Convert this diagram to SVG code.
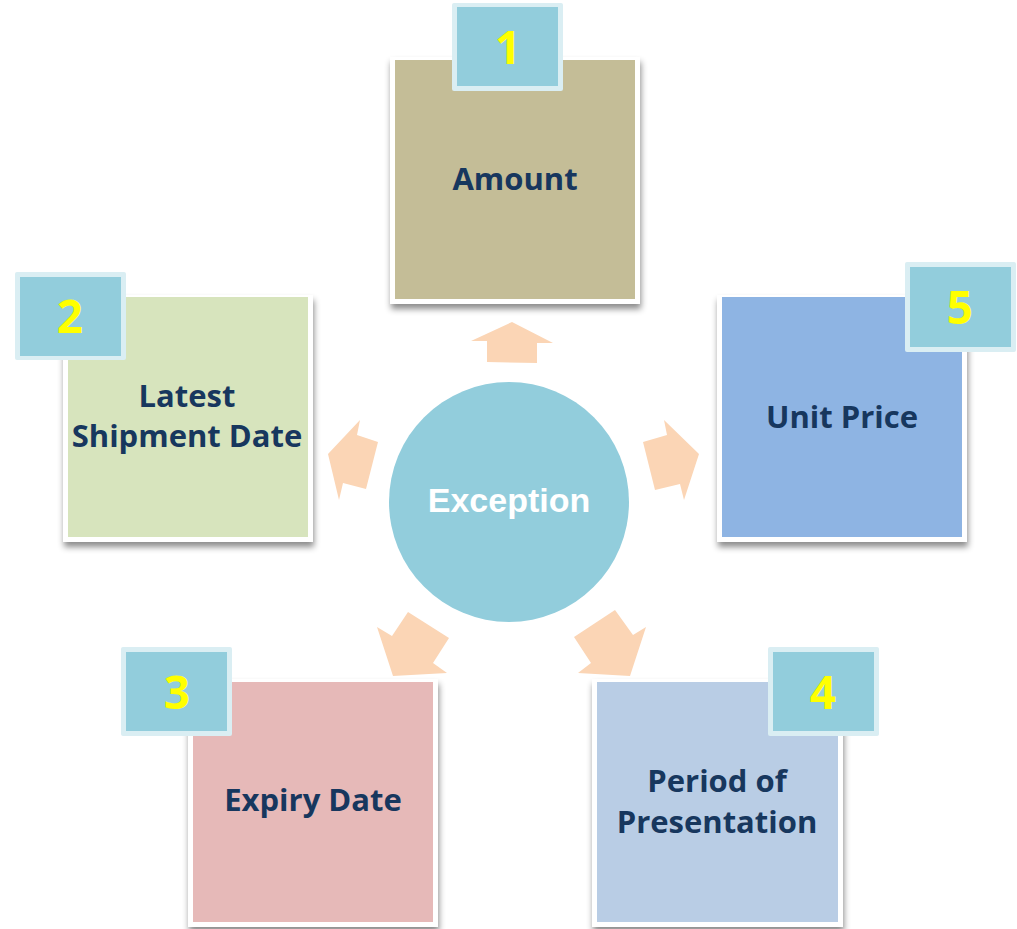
<svg xmlns="http://www.w3.org/2000/svg" width="1017" height="929" viewBox="0 0 1017 929">
<defs>
<filter id="sh" x="-10%" y="-10%" width="125%" height="125%">
<feDropShadow dx="1" dy="5" stdDeviation="3" flood-color="#000" flood-opacity="0.45"/>
</filter>
<style>
.frame{fill:#fff;filter:url(#sh)}
.lbl{font-family:"Open Sans","Noto Sans",sans-serif;font-weight:700;font-size:31px;fill:#17375E;text-anchor:middle}
.num{font-family:"Open Sans","Noto Sans",sans-serif;font-weight:700;font-size:46px;fill:#FFFF00;text-anchor:middle}
.bo{fill:#DAEEF3}
.bi{fill:#92CDDC}
.arr{fill:#FBD5B5}
</style>
</defs>
<rect width="1017" height="929" fill="#fff"/>
<g id="connectors">
<polygon class="arr" points="512,322 553,343 537,343 537,363 487,362 487,341 471,341"/>
<polygon class="arr" points="328,454 360,420 357,435 378,442 366,489 343,483 339,500"/>
<polygon class="arr" points="699,454 664,420 667,435 643,442 655,490 680,484 684,500"/>
<polygon class="arr" points="377,627 392,636 408,612 449,638 433,663 447,673 393,676"/>
<polygon class="arr" points="646,627 633,635 615,610 574,637 591,663 578,673 630,676"/>
</g>
<g id="center">
<circle cx="509" cy="502" r="120" fill="#92CDDC"/>
<text x="509" y="512" font-family="'Liberation Sans',Arial,sans-serif" font-weight="700" font-size="34" fill="#fff" text-anchor="middle">Exception</text>
</g>
<g id="node1">
<rect class="frame" x="390" y="57" width="250" height="247"/>
<rect x="395" y="60" width="240" height="239" fill="#C4BD97"/>
<text class="lbl" x="515" y="190">Amount</text>
<rect class="bo" x="452" y="3" width="111" height="88" rx="2"/>
<rect class="bi" x="457" y="7" width="101" height="79"/>
<text class="num" x="508" y="64">1</text>
</g>
<g id="node2">
<rect class="frame" x="63" y="295" width="250" height="247"/>
<rect x="68" y="297" width="240" height="240" fill="#D7E4BD"/>
<text class="lbl" x="187" y="407">Latest</text>
<text class="lbl" x="187" y="447">Shipment Date</text>
<rect class="bo" x="15" y="272" width="111" height="88" rx="2"/>
<rect class="bi" x="20" y="277" width="101" height="79"/>
<text class="num" x="70" y="333">2</text>
</g>
<g id="node5">
<rect class="frame" x="717" y="295" width="250" height="247"/>
<rect x="722" y="297" width="240" height="240" fill="#8EB4E3"/>
<text class="lbl" x="842" y="428">Unit Price</text>
<rect class="bo" x="905" y="262" width="111" height="90" rx="2"/>
<rect class="bi" x="910" y="267" width="101" height="80"/>
<text class="num" x="960" y="324">5</text>
</g>
<g id="node3">
<rect class="frame" x="188" y="679" width="250" height="248"/>
<rect x="193" y="682" width="240" height="240" fill="#E6B9B8"/>
<text class="lbl" x="313" y="811">Expiry Date</text>
<rect class="bo" x="121" y="647" width="111" height="89" rx="2"/>
<rect class="bi" x="126" y="652" width="101" height="79"/>
<text class="num" x="177" y="709">3</text>
</g>
<g id="node4">
<rect class="frame" x="592" y="679" width="251" height="248"/>
<rect x="597" y="682" width="241" height="240" fill="#B9CDE5"/>
<text class="lbl" x="717" y="792">Period of</text>
<text class="lbl" x="717" y="833">Presentation</text>
<rect class="bo" x="768" y="647" width="111" height="89" rx="2"/>
<rect class="bi" x="773" y="652" width="101" height="79"/>
<text class="num" x="823" y="709">4</text>
</g>
</svg>
